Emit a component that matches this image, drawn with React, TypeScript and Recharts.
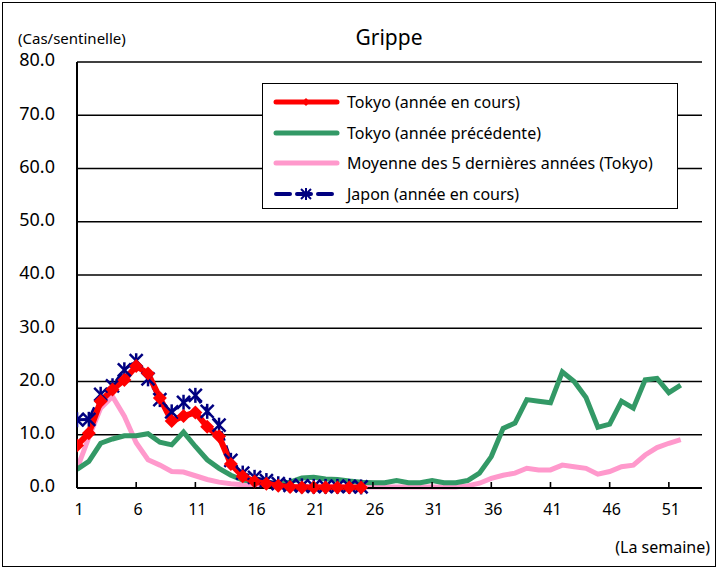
import React from 'react';
import { LineChart, Line, XAxis, YAxis, CartesianGrid } from 'recharts';

const weeks = [1,2,3,4,5,6,7,8,9,10,11,12,13,14,15,16,17,18,19,20,21,22,23,24,25,26,27,28,29,30,31,32,33,34,35,36,37,38,39,40,41,42,43,44,45,46,47,48,49,50,51,52];
const xTicks = [1, 6, 11, 16, 21, 26, 31, 36, 41, 46, 51];
const yTicks = [0, 10, 20, 30, 40, 50, 60, 70, 80];

const tokyoCurrent = [8.0, 10.3, 16.3, 18.5, 20.3, 22.9, 21.5, 16.9, 12.6, 13.5, 14.2, 11.5, 9.7, 4.5, 2.2, 1.2, 0.8, 0.4, 0.2, 0.1, 0.1, 0.1, 0.1, 0.1, 0.1];
const japanCurrent = [12.8, 12.9, 17.6, 19.2, 22.2, 23.9, 20.5, 16.6, 14.3, 16.1, 17.4, 14.4, 11.8, 5.2, 2.8, 2.0, 1.4, 0.8, 0.5, 0.4, 0.3, 0.3, 0.3, 0.3, 0.2];
const tokyoPrevious = [3.5, 5.0, 8.4, 9.2, 9.8, 9.8, 10.2, 8.6, 8.1, 10.5, 7.8, 5.3, 3.7, 2.4, 1.5, 1.2, 1.0, 0.9, 1.1, 1.9, 2.0, 1.7, 1.6, 1.3, 1.1, 1.0, 1.0, 1.4, 1.0, 1.0, 1.4, 1.0, 1.0, 1.4, 2.8, 5.9, 11.2, 12.2, 16.6, 16.3, 16.0, 21.8, 20.0, 17.0, 11.4, 12.0, 16.3, 15.0, 20.3, 20.6, 17.9, 19.3];
const tokyoAvg5 = [3.6, 9.5, 15.0, 17.2, 13.5, 8.5, 5.3, 4.3, 3.1, 3.0, 2.3, 1.6, 1.1, 0.8, 0.6, 0.5, 0.4, 0.4, 0.3, 0.3, 0.3, 0.3, 0.3, 0.2, 0.2, 0.2, 0.2, 0.2, 0.2, 0.2, 0.2, 0.2, 0.2, 0.4, 0.9, 1.8, 2.4, 2.8, 3.7, 3.4, 3.4, 4.3, 4.0, 3.7, 2.6, 3.1, 4.0, 4.3, 6.2, 7.6, 8.4, 9.1];

const seriesNames = [
  'Tokyo (année en cours)',
  'Tokyo (année précédente)',
  'Moyenne des 5 dernières années (Tokyo)',
  'Japon (année en cours)',
];

const RED = '#FF0000';
const GREEN = '#339966';
const PINK = '#FF99CC';
const NAVY = '#000080';
const FONT = '"Noto Sans", sans-serif';

const data = weeks.map((w, i) => ({
  week: w,
  tokyo: i < tokyoCurrent.length ? tokyoCurrent[i] : null,
  japan: i < japanCurrent.length ? japanCurrent[i] : null,
  prev: tokyoPrevious[i],
  avg: tokyoAvg5[i],
}));

const Diamond = (props: any) => {
  const { cx, cy } = props;
  if (cx == null || cy == null || props.value == null) return null;
  const r = 7;
  return <path d={`M${cx},${cy - r} L${cx + r},${cy} L${cx},${cy + r} L${cx - r},${cy} Z`} fill={RED} stroke="none" />;
};

const Star = (props: any) => {
  const { cx, cy } = props;
  if (cx == null || cy == null || props.value == null) return null;
  const r = 6.5;
  return (
    <g stroke={NAVY} strokeWidth={2.5}>
      <line x1={cx - r} y1={cy - r} x2={cx + r} y2={cy + r} />
      <line x1={cx - r} y1={cy + r} x2={cx + r} y2={cy - r} />
      <line x1={cx} y1={cy - r - 1} x2={cx} y2={cy + r + 1} />
    </g>
  );
};

const XTick = (props: any) => {
  const { x, y, payload } = props;
  return (
    <g>
      <line x1={x} y1={y - 15} x2={x} y2={y - 21} stroke="#000" strokeWidth={1.6} />
      <text x={x + 2} y={y} dy={12} textAnchor="middle" fontSize={16} fontFamily={FONT} fill="#000">{payload.value}</text>
    </g>
  );
};

const LegendBox = () => {
  const rows = [
    { color: RED, dash: undefined, marker: 'diamond', w: 5 },
    { color: GREEN, dash: undefined, marker: null, w: 5 },
    { color: PINK, dash: undefined, marker: null, w: 5 },
    { color: NAVY, dash: '14 7', marker: 'star', w: 4 },
  ];
  return (
    <div style={{ position: 'absolute', left: 262, top: 83, border: '1.5px solid #000', background: '#fff', width: 416, height: 126, boxSizing: 'border-box', padding: '3px 0 0 10px', fontFamily: FONT, fontSize: 16 }}>
      {rows.map((r, i) => (
        <div key={i} style={{ display: 'flex', alignItems: 'center', height: 30.5 }}>
          <svg width={68} height={14} style={{ marginRight: 6 }}>
            <line x1={3} y1={7} x2={64} y2={7} stroke={r.color} strokeWidth={r.w} strokeDasharray={r.dash} strokeLinecap="round" />
            {r.marker === 'diamond' && <path d="M33,3 L37,7 L33,11 L29,7 Z" fill={RED} />}
            {r.marker === 'star' && (
              <g stroke={NAVY} strokeWidth={2}>
                <line x1={28} y1={2} x2={38} y2={12} />
                <line x1={28} y1={12} x2={38} y2={2} />
                <line x1={33} y1={1} x2={33} y2={13} />
              </g>
            )}
          </svg>
          <span style={{ color: '#000', whiteSpace: 'nowrap' }}>{seriesNames[i]}</span>
        </div>
      ))}
    </div>
  );
};

export default function App() {
  return (
    <div style={{ position: 'absolute', left: 0, top: 0, width: 719, height: 569, background: '#fff' }}>
      <div style={{ position: 'absolute', left: 2, top: 2, width: 714, height: 565, border: '1.5px solid #000', boxSizing: 'border-box' }} />
      <div style={{ position: 'absolute', left: 0, top: 23, width: 778, textAlign: 'center', fontFamily: FONT, fontSize: 21, color: '#000' }}>Grippe</div>
      <div style={{ position: 'absolute', left: 18, top: 28, fontFamily: FONT, fontSize: 15, color: '#000' }}>(Cas/sentinelle)</div>
      <div style={{ position: 'absolute', right: 9, top: 536, fontFamily: FONT, fontSize: 16, color: '#000' }}>(La semaine)</div>
      <LineChart width={719} height={569} data={data} margin={{ top: 62, right: 17, bottom: 51, left: 17 }} style={{ position: 'absolute', left: 0, top: 0 }}>
        <CartesianGrid horizontal={true} vertical={false} stroke="#000" strokeWidth={1.3} />
        <XAxis dataKey="week" type="number" domain={[1, 53.8]} ticks={xTicks} allowDataOverflow interval={0}
          tick={<XTick />} tickLine={false} tickSize={0} tickMargin={15} height={30} axisLine={{ stroke: '#000', strokeWidth: 2 }} />
        <XAxis xAxisId="top" orientation="top" dataKey="week" type="number" domain={[1, 53.8]} tick={false} tickLine={false} axisLine={{ stroke: '#777', strokeWidth: 1.5 }} height={0} />
        <YAxis domain={[0, 80]} ticks={yTicks} interval={0} width={60} tickLine={false} tickSize={0} tickMargin={22}
          tickFormatter={(v: number) => v.toFixed(1)} tick={{ fontSize: 18, fontFamily: FONT, fill: '#000', dy: -2 }}
          axisLine={{ stroke: '#000', strokeWidth: 2 }} />
        <YAxis yAxisId="right" orientation="right" domain={[0, 80]} tick={false} tickLine={false} width={0} axisLine={{ stroke: '#888', strokeWidth: 1.5 }} />
        <Line dataKey="avg" stroke={PINK} strokeWidth={5} dot={false} isAnimationActive={false} />
        <Line dataKey="prev" stroke={GREEN} strokeWidth={5} dot={false} isAnimationActive={false} />
        <Line dataKey="japan" stroke={NAVY} strokeWidth={3} strokeDasharray="10 5" dot={<Star />} isAnimationActive={false} />
        <Line dataKey="tokyo" stroke={RED} strokeWidth={6} dot={<Diamond />} isAnimationActive={false} />
      </LineChart>
      <LegendBox />
    </div>
  );
}
